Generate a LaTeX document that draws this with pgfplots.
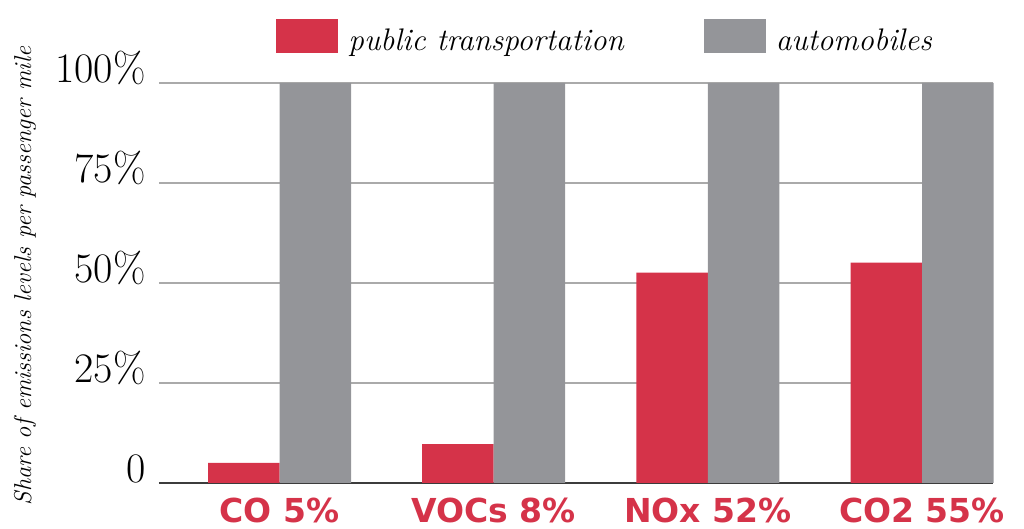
\documentclass[border=0pt]{standalone}
\usepackage{fontspec}
\newfontfamily\catfont{DejaVu Sans}
\usepackage{pgfplots}
\pgfplotsset{compat=1.18}
\definecolor{pubred}{RGB}{213,51,73}
\definecolor{autogray}{RGB}{148,149,153}
\definecolor{gridgray}{RGB}{170,170,170}
\definecolor{basedark}{RGB}{60,60,60}
\begin{document}
\begin{tikzpicture}
\begin{axis}[
  name=ax,
  scale only axis,
  width=417pt, height=200pt,
  ybar=0pt, bar width=35.75pt,
  xmin=-0.5626, xmax=3.331,
  ymin=0, ymax=100,
  clip=false,
  axis lines*=left,
  y axis line style={draw=none},
  x axis line style={draw=basedark, line width=0.8pt},
  major tick length=0pt,
  ymajorgrids,
  major grid style={draw=gridgray, line width=0.7pt},
  xtick={0,1,2,3},
  xticklabels={CO 5\%, VOCs 8\%, NOx 52\%, CO2 55\%},
  xticklabel style={anchor=base, yshift=-20pt, inner sep=0pt, text=pubred,
     font=\catfont\bfseries\fontsize{16.5}{18}\selectfont},
  ytick={0,25,50,75,100},
  yticklabels={0\hspace{5.5pt}, 25\%, 50\%, 75\%, 100\%},
  yticklabel style={anchor=base east, xshift=-6.5pt, inner sep=0pt,
     font=\fontsize{21}{23}\selectfont},
  ylabel={Share of emissions levels per passenger mile},
  ylabel style={at={(axis description cs:-0.1607,0.5175)}, anchor=center,
     font=\itshape\fontsize{12.2}{14}\selectfont},
  legend style={at={(axis description cs:0.1403,1.1175)}, anchor=west,
     draw=none, fill=none, inner sep=0pt,
     /tikz/every odd column/.append style={column sep=5pt},
     /tikz/every even column/.append style={column sep=40pt},
     nodes={inner sep=0pt, font=\itshape\fontsize{15.6}{18}\selectfont}},
  legend columns=2,
  legend image code/.code={\fill[#1] (0pt,-6pt) rectangle (31pt,11pt);},
]
\addplot[fill=pubred, draw=none] coordinates {(0,5) (1,9.7) (2,52.6) (3,55.1)};
\addplot[fill=autogray, draw=none] coordinates {(0,100) (1,100) (2,100) (3,100)};
\legend{public transportation, automobiles}
\end{axis}
\path (ax.south west) ++(-79.5pt,-23pt) rectangle ++(512pt,264.5pt);
\end{tikzpicture}
\end{document}
